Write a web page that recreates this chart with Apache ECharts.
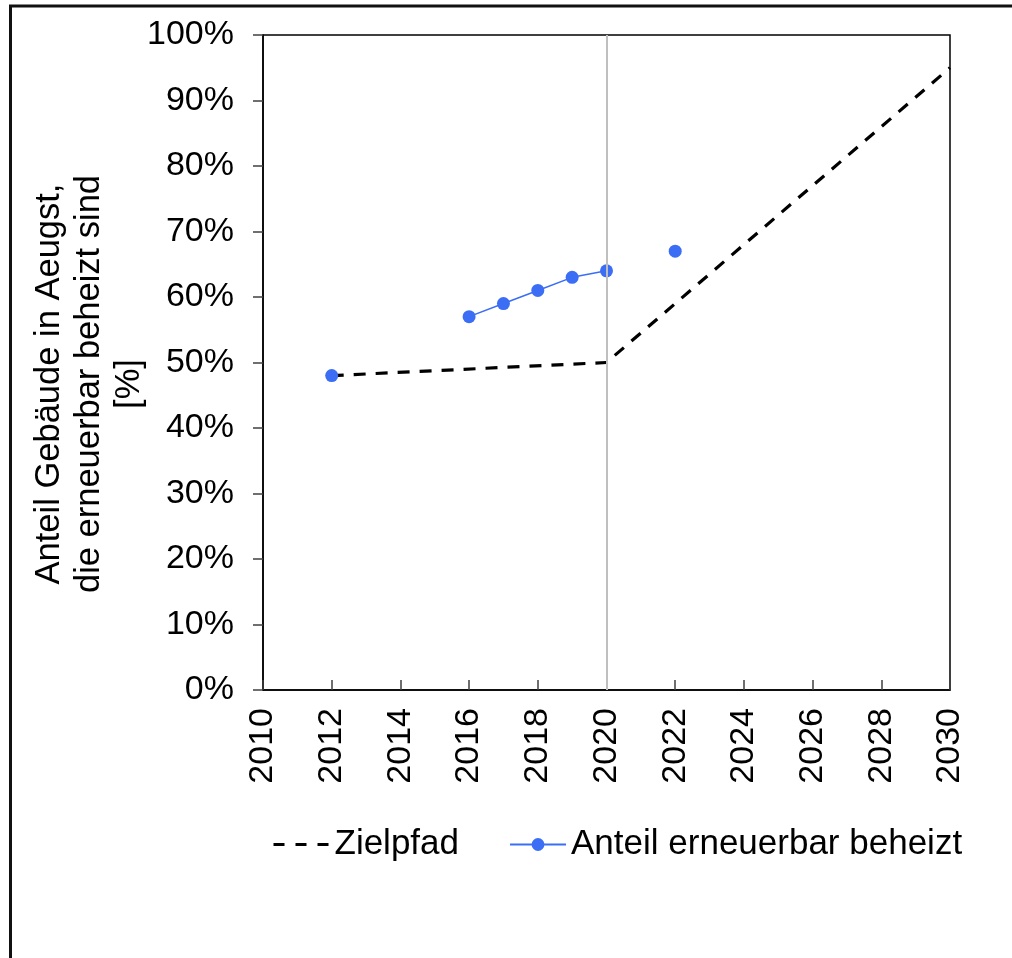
<!DOCTYPE html>
<html>
<head>
<meta charset="utf-8">
<script src="https://cdn.jsdelivr.net/npm/echarts@6/dist/echarts.min.js"></script>
<style>
html,body{margin:0;padding:0;background:#fff;}
#chart{width:1012px;height:958px;}
</style>
</head>
<body>
<div id="chart"></div>
<script>
// Data
const zielYears = [2012, 2020, 2030];
const zielValues = [48, 50, 95];
const istYears = [2012, 2014, 2016, 2017, 2018, 2019, 2020, 2021, 2022];
const istValues = [48, null, 57, 59, 61, 63, 64, null, 67];
const refLineYear = 2020;
const seriesNames = ['Zielpfad', 'Anteil erneuerbar beheizt'];
const yTitle = 'Anteil Gebäude in Aeugst,\ndie erneuerbar beheizt sind\n[%]';

const FONT = '"Liberation Sans", Arial, sans-serif';
const BLUE = '#3b6ef5';
const chart = echarts.init(document.getElementById('chart'), null, {renderer: 'canvas'});

const zielData = zielYears.map((y, i) => [y, zielValues[i]]);
const istData = istYears.map((y, i) => [y, istValues[i] === null ? '-' : istValues[i]]);

chart.setOption({
  animation: false,
  backgroundColor: '#fff',
  grid: {
    left: 263, right: 62, top: 35, bottom: 268,
    show: true, borderColor: '#000', borderWidth: 1.5, backgroundColor: 'transparent'
  },
  xAxis: {
    type: 'value', min: 2010, max: 2030, interval: 2,
    axisLine: {show: true, onZero: false, lineStyle: {color: '#000', width: 1.5}},
    axisTick: {show: true, inside: true, length: 10, lineStyle: {color: '#404040', width: 1.5}},
    splitLine: {show: false},
    axisLabel: {rotate: 90, margin: 18, fontSize: 34, color: '#000', fontFamily: FONT,
      formatter: v => String(v)}
  },
  yAxis: {
    type: 'value', min: 0, max: 100, interval: 10,
    axisLine: {show: true, lineStyle: {color: '#000', width: 1.5}},
    axisTick: {show: true, inside: false, length: 10, lineStyle: {color: '#404040', width: 1.5}},
    splitLine: {show: false},
    axisLabel: {margin: 29, fontSize: 34, color: '#000', fontFamily: FONT,
      formatter: '{value}%'}
  },
  legend: {
    left: 267, top: 822,
    itemWidth: 56, itemHeight: 16, itemGap: 50,
    textStyle: {fontSize: 35, color: '#000', fontFamily: FONT},
    data: [
      {name: seriesNames[0], itemStyle: {opacity: 0},
       lineStyle: {type: [11, 11], width: 3, color: '#000'}},
      {name: seriesNames[1]}
    ]
  },
  graphic: [
    {type: 'rect', shape: {x: 10.5, y: 6, width: 1100, height: 1100},
     style: {fill: 'none', stroke: '#111', lineWidth: 3}, z: 100},
    {type: 'text', x: 89, y: 384, rotation: Math.PI / 2,
     style: {text: yTitle, textAlign: 'center', textVerticalAlign: 'middle',
       font: '34.5px ' + FONT, lineHeight: 40, fill: '#000'}}
  ],
  series: [
    {
      type: 'line', name: '__ref', data: [], z: 1, silent: true,
      markLine: {silent: true, symbol: 'none', label: {show: false},
        lineStyle: {color: '#bfbfbf', width: 2, type: 'solid'},
        data: [{xAxis: refLineYear}]}
    },
    {
      type: 'line', name: seriesNames[0], data: zielData, z: 3,
      symbol: 'none', showSymbol: false,
      lineStyle: {color: '#000', width: 3.2, type: [12, 10]},
      itemStyle: {color: '#000'}
    },
    {
      type: 'line', name: seriesNames[1], data: istData, z: 4,
      symbol: 'circle', symbolSize: 13, showSymbol: true, connectNulls: false,
      lineStyle: {color: BLUE, width: 1.5},
      itemStyle: {color: BLUE}
    }
  ]
});
</script>
</body>
</html>
